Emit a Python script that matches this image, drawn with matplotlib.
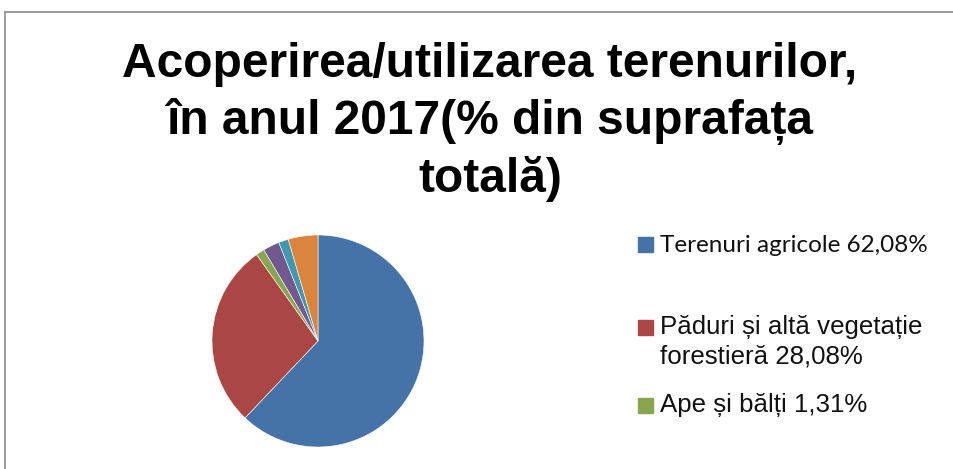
import matplotlib.pyplot as plt
from matplotlib.lines import Line2D

# Land cover shares, % of total area (2017)
categories = [
    "Terenuri agricole 62,08%",
    "Păduri și altă vegetație\nforestieră 28,08%",
    "Ape și bălți 1,31%",
    "Alte categorii 1",
    "Alte categorii 2",
    "Alte categorii 3",
]
values = [62.08, 28.08, 1.31, 2.50, 1.50, 4.53]
colors = ["#4572A7", "#AA4643", "#89A54E", "#71588F", "#4198AF", "#DB843D"]

W, H = 954, 469
fig = plt.figure(figsize=(W / 100, H / 100), dpi=100)

# chart frame (left and top edges visible, the rest is cropped)
fig.add_artist(Line2D([5 / W, 5 / W], [0, 1 - 12 / H], color="#8a8a8a", lw=1.2))
fig.add_artist(Line2D([5 / W, 1], [1 - 12 / H, 1 - 12 / H], color="#8a8a8a", lw=1.2))

# title
fig.text(490 / W, 1 - 42 / H,
         "Acoperirea/utilizarea terenurilor,\nîn anul 2017(% din suprafața\ntotală)",
         ha="center", va="top", fontsize=34.5, fontweight="bold",
         family="Liberation Sans", linespacing=1.3)

# pie
cx, cy, r = 318, 341, 106
ax = fig.add_axes([(cx - r) / W, (H - cy - r) / H, 2 * r / W, 2 * r / H])
wedges, _ = ax.pie(values, colors=colors, startangle=90, counterclock=False,
                   radius=1.0, wedgeprops=dict(edgecolor="white", linewidth=0.4))
ax.set_xlim(-1, 1)
ax.set_ylim(-1, 1)
ax.axis("off")

# legend (only first three entries visible in the crop)
# (text centre y, marker centre y, family, size, wedge index)
legend_rows = [
    (245, 245, "Lato", 17.5, 0),
    (342, 327, "Liberation Sans", 18.6, 1),
    (405, 405, "Liberation Sans", 18.6, 2),
]
for yc, ym, fam, fs, i in legend_rows:
    fig.patches.append(plt.Rectangle((638 / W, 1 - (ym + 7.5) / H), 15 / W, 15 / H,
                                     transform=fig.transFigure,
                                     color=wedges[i].get_facecolor(), figure=fig))
    fig.text(660 / W, 1 - yc / H, categories[i], ha="left", va="center",
             fontsize=fs, family=fam, linespacing=1.3, color="#111111")

fig.savefig("out.png", dpi=100)
